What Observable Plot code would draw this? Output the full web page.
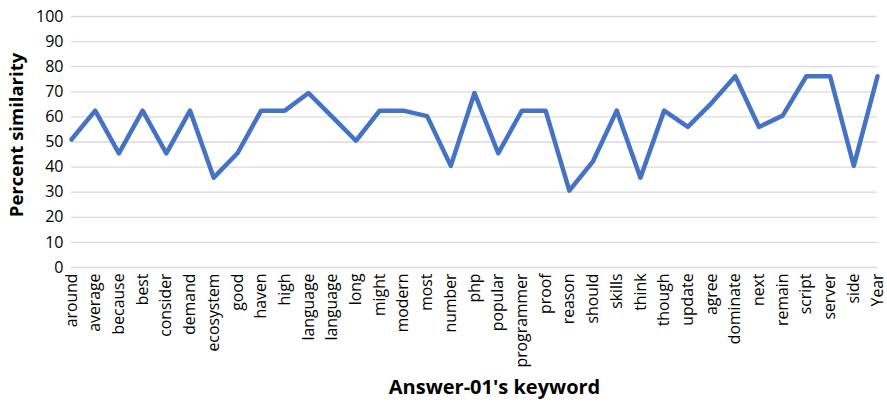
<!DOCTYPE html>
<html><head><meta charset="utf-8">
<script src="https://cdn.jsdelivr.net/npm/d3@7"></script>
<script src="https://cdn.jsdelivr.net/npm/@observablehq/plot@0.6"></script>
<style>
body{margin:0;background:#fff;}
</style>
</head><body>
<div id="chart"></div>
<script>
const keywords = ["around","average","because","best","consider","demand","ecosystem","good","haven","high","language","language","long","might","modern","most","number","php","popular","programmer","proof","reason","should","skills","think","though","update","agree","dominate","next","remain","script","server","side","Year"];
const similarity = [51,62.5,45.5,62.5,45.5,62.5,35.8,45.5,62.5,62.5,69.5,60,50.5,62.5,62.5,60.3,40.5,69.5,45.5,62.5,62.5,30.6,42.3,62.5,35.8,62.5,56,65.5,76.2,56,60.5,76.2,76.2,40.5,76.2];
const yTicks = [0,10,20,30,40,50,60,70,80,90,100];
const yTitle = "Percent similarity";
const xTitle = "Answer-01's keyword";

const data = keywords.map((k,i)=>({i, k, v: similarity[i]}));
const xIdx = d3.range(keywords.length);

const chart = Plot.plot({
  width: 887, height: 402,
  marginLeft: 71, marginRight: 10, marginTop: 16, marginBottom: 135,
  style: {fontFamily: "'Open Sans', sans-serif", fontSize: "16px", color: "#000"},
  x: {type:"linear", domain:[0, keywords.length - 1], label: null},
  y: {domain:[0,100], label: null},
  marks: [
    Plot.gridY(yTicks, {stroke:"#d9d9d9", strokeOpacity:1, strokeWidth:1.3}),
    Plot.axisY(yTicks, {tickSize:0, tickPadding:8, label:null, fontSize:16}),
    Plot.axisX(xIdx, {tickSize:0, tickPadding:6, tickRotate:-90, tickFormat: i => keywords[i], label:null, fontSize:15.8}),
    Plot.line(data, {x:"i", y:"v", stroke:"#4472C4", strokeWidth:4.5, strokeLinejoin:"round", strokeLinecap:"round"}),
    Plot.text([yTitle], {frameAnchor:"left", dx:-54, dy:-7, rotate:-90, textAnchor:"middle", fontWeight:"bold", fontSize:18.5, text:d=>d}),
    Plot.text([xTitle], {frameAnchor:"bottom", dx:20, dy:126, fontWeight:"bold", fontSize:20, text:d=>d})
  ]
});
document.getElementById("chart").appendChild(chart);
</script>
</body></html>
